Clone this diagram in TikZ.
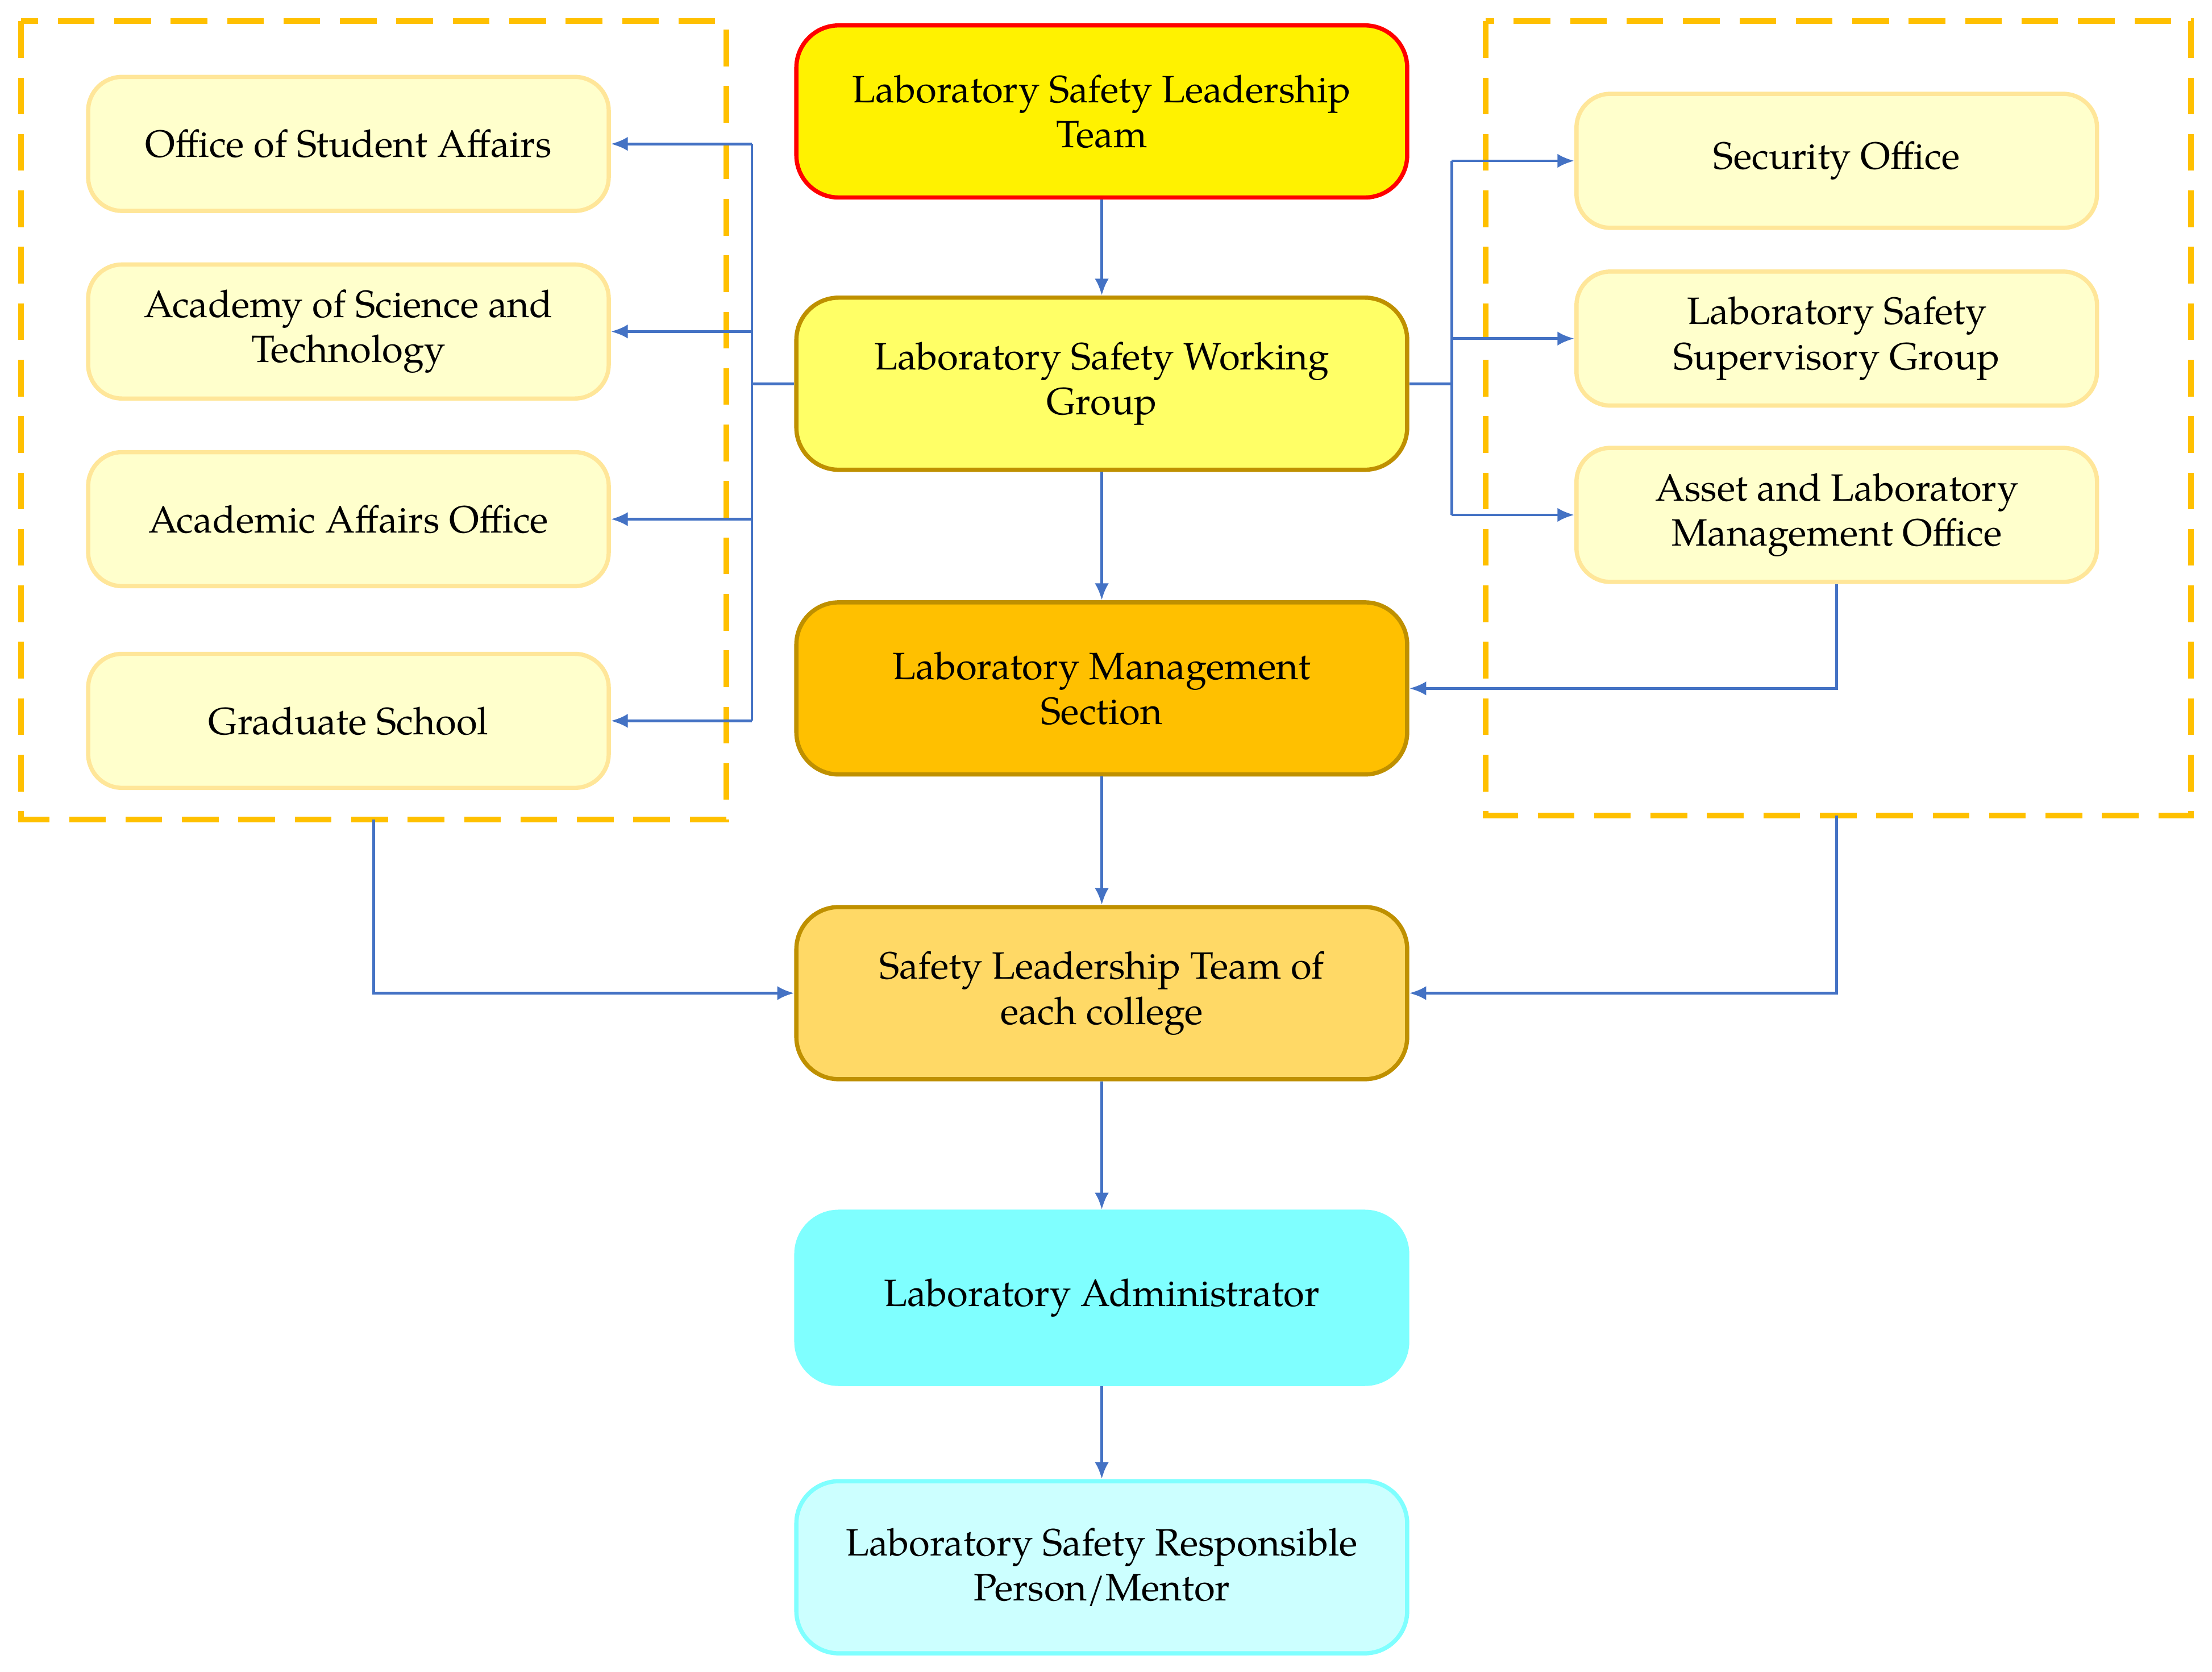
\documentclass[tikz,border=0pt]{standalone}
\usepackage{fontspec}
\setmainfont{TeX Gyre Pagella}
\usetikzlibrary{arrows.meta}
\definecolor{bl}{HTML}{4472C4}
\definecolor{gold}{HTML}{BF9000}
\definecolor{org}{HTML}{FFC000}
\tikzset{
 big/.style={draw=gold,line width=1.5pt,rounded corners=15pt,minimum width=216.5pt,minimum height=61pt,align=center,font=\fontsize{13.5}{16}\selectfont},
 small/.style={draw=#1,line width=1.5pt,fill=#1!30,rounded corners=12pt,minimum width=184.5pt,minimum height=47.5pt,align=center,font=\fontsize{13.5}{16}\selectfont},
 conn/.style={draw=bl,line width=1pt,-{Latex[length=6pt,width=5pt]}},
 line/.style={draw=bl,line width=1pt},
 grp/.style={draw=org,line width=2pt,dash pattern=on 13pt off 7pt}
}
\begin{document}
\begin{tikzpicture}[x=0.5pt,y=-0.5pt]
\useasboundingbox (0,0) rectangle (1568,1185);
\draw[grp] (15,15) rectangle (515,581);
\draw[grp] (1053,15) rectangle (1553,578);
\node[big,draw=red,fill=yellow] (lead) at (781,79) {Laboratory Safety Leadership\\Team};
\node[big,fill={rgb,255:red,255;green,255;blue,102}] (work) at (781,272) {Laboratory Safety Working\\Group};
\node[big,fill=org] (mgmt) at (781,488) {Laboratory Management\\Section};
\node[big,fill={rgb,255:red,255;green,217;blue,102}] (col) at (781,704) {Safety Leadership Team of\\each college};
\node[big,draw={rgb,255:red,127;green,255;blue,255},fill={rgb,255:red,127;green,255;blue,255}] (adm) at (781,920) {Laboratory Administrator};
\node[big,draw={rgb,255:red,127;green,255;blue,255},fill={rgb,255:red,204;green,255;blue,255}] (resp) at (781,1111) {Laboratory Safety Responsible\\Person/Mentor};
\tikzset{lb/.style={draw={rgb,255:red,255;green,230;blue,153},line width=1.5pt,fill={rgb,255:red,255;green,255;blue,204},rounded corners=12pt,minimum width=184.5pt,minimum height=47.5pt,align=center,font=\fontsize{13.5}{16}\selectfont}}
\node[lb] (l1) at (247,102) {Office of Student Affairs};
\node[lb] (l2) at (247,235) {Academy of Science and\\Technology};
\node[lb] (l3) at (247,368) {Academic Affairs Office};
\node[lb] (l4) at (247,511) {Graduate School};
\node[lb] (r1) at (1302,114) {Security Office};
\node[lb] (r2) at (1302,240) {Laboratory Safety\\Supervisory Group};
\node[lb] (r3) at (1302,365) {Asset and Laboratory\\Management Office};
\coordinate (lj) at (533,272);
\coordinate (rj) at (1029,272);
\draw[line] (work.west) -- (lj);
\draw[line] (533,102) -- (533,511);
\foreach \n in {l1,l2,l3,l4} \draw[conn] (lj |- \n.east) -- (\n.east);
\draw[line] (work.east) -- (rj);
\draw[line] (1029,114) -- (1029,365);
\foreach \n in {r1,r2,r3} \draw[conn] (rj |- \n.west) -- (\n.west);
\draw[conn] (lead) -- (work);
\draw[conn] (work) -- (mgmt);
\draw[conn] (mgmt) -- (col);
\draw[conn] (col) -- (adm);
\draw[conn] (adm) -- (resp);
\draw[conn] (r3.south) |- (mgmt.east);
\coordinate (lb) at (265,581);
\coordinate (rb) at (1302,578);
\draw[conn] (lb) |- (col.west);
\draw[conn] (rb) |- (col.east);
\end{tikzpicture}
\end{document}
